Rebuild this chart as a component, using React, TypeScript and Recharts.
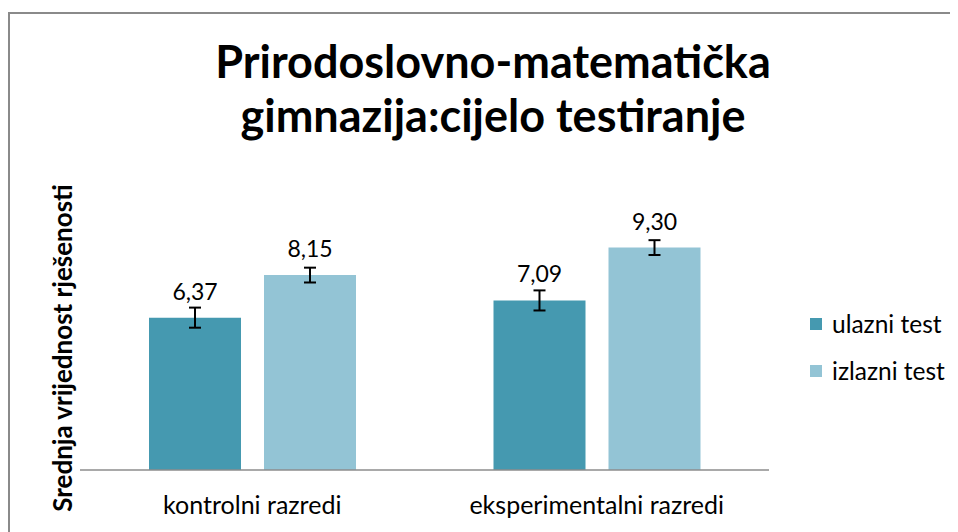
import { Bar, BarChart, ErrorBar, LabelList, XAxis, YAxis } from 'recharts';

// ----------------------------------------------------------------------

const categories = ['kontrolni razredi', 'eksperimentalni razredi'];
const ulazni = [6.37, 7.09];
const izlazni = [8.15, 9.3];
const ulazniErr = [0.42, 0.42];
const izlazniErr = [0.31, 0.31];

const seriesNames = ['ulazni test', 'izlazni test'];
const seriesColors = ['#4599B0', '#93C4D5'];

const FONT = 'Lato, "Open Sans", sans-serif';

const chartData = categories.map((name, i) => ({
  name,
  ulazni: ulazni[i],
  izlazni: izlazni[i],
  ulazniErr: ulazniErr[i],
  izlazniErr: izlazniErr[i],
}));

const formatValue = (v: unknown) => Number(v).toFixed(2).replace('.', ',');

export default function App() {
  return (
    <div
      style={{
        position: 'relative',
        marginTop: 4,
        width: 950,
        height: 520,
        boxSizing: 'border-box',
        borderTop: '2px solid #8a8a8a',
        borderLeft: '2px solid #8a8a8a',
        background: '#fff',
        overflow: 'hidden',
      }}
    >
      <style>{'body{overflow:hidden}'}</style>
      <div
        style={{
          position: 'absolute',
          left: 0,
          top: 20,
          width: 966,
          textAlign: 'center',
          fontFamily: FONT,
          fontWeight: 700,
          fontSize: 45,
          lineHeight: '54px',
          color: '#000',
        }}
      >
        Prirodoslovno-matematička
        <br />
        gimnazija:cijelo testiranje
      </div>
      <div
        style={{
          position: 'absolute',
          left: 52,
          top: 334,
          transform: 'translate(-50%, -50%) rotate(-90deg)',
          whiteSpace: 'nowrap',
          fontFamily: FONT,
          fontWeight: 700,
          fontSize: 26,
          color: '#000',
        }}
      >
        Srednja vrijednost rješenosti
      </div>
      <div
        style={{
          position: 'absolute',
          left: 800,
          top: 286,
          fontFamily: FONT,
          fontSize: 24.5,
          color: '#000',
        }}
      >
        {seriesNames.map((n, i) => (
          <div key={n} style={{ display: 'flex', alignItems: 'center', height: 47 }}>
            <span style={{ width: 12, height: 12, background: seriesColors[i], marginRight: 10 }} />
            <span>{n}</span>
          </div>
        ))}
      </div>
      <BarChart
        width={948}
        height={518}
        data={chartData}
        margin={{ top: 169, right: 189, bottom: 32, left: 70 }}
        barSize={92}
        barGap={23}
      >
        <XAxis
          dataKey='name'
          height={30}
          axisLine={{ stroke: '#8c8c8c', strokeWidth: 1.5 }}
          tickLine={false}
          tickMargin={20}
          tick={{ fill: '#000', fontSize: 25, fontFamily: FONT }}
        />
        <YAxis hide domain={[0, 12]} />
        <Bar dataKey='ulazni' name={seriesNames[0]} fill={seriesColors[0]} isAnimationActive={false}>
          <ErrorBar dataKey='ulazniErr' width={6} strokeWidth={2} stroke='#000' direction='y' />
          <LabelList
            dataKey='ulazni'
            position='top'
            offset={18}
            formatter={formatValue}
            style={{ fill: '#000', fontSize: 23, fontFamily: FONT }}
          />
        </Bar>
        <Bar dataKey='izlazni' name={seriesNames[1]} fill={seriesColors[1]} isAnimationActive={false}>
          <ErrorBar dataKey='izlazniErr' width={6} strokeWidth={2} stroke='#000' direction='y' />
          <LabelList
            dataKey='izlazni'
            position='top'
            offset={18}
            formatter={formatValue}
            style={{ fill: '#000', fontSize: 23, fontFamily: FONT }}
          />
        </Bar>
      </BarChart>
    </div>
  );
}
